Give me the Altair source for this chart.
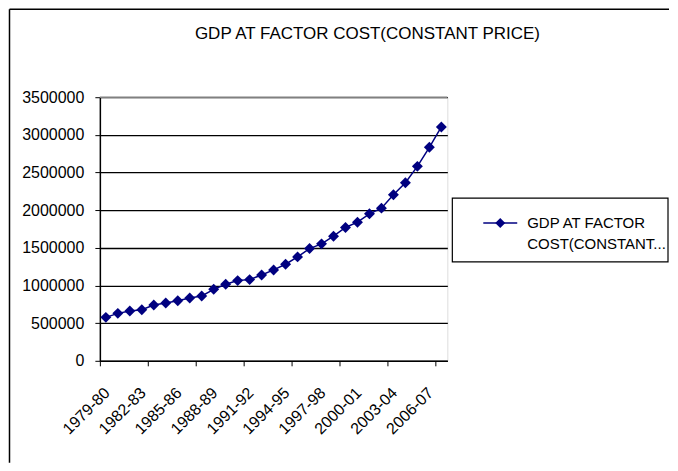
import altair as alt
import pandas as pd

years = ["1979-80", "1980-81", "1981-82", "1982-83", "1983-84", "1984-85", "1985-86",
         "1986-87", "1987-88", "1988-89", "1989-90", "1990-91", "1991-92", "1992-93",
         "1993-94", "1994-95", "1995-96", "1996-97", "1997-98", "1998-99", "1999-00",
         "2000-01", "2001-02", "2002-03", "2003-04", "2004-05", "2005-06", "2006-07",
         "2007-08"]
gdp = [577000, 630000, 661000, 679000, 741000, 767000, 798000, 834000, 861000,
       949000, 1016000, 1065000, 1078000, 1140000, 1207000, 1282000, 1380000,
       1490000, 1553000, 1655000, 1770000, 1841000, 1952000, 2027000, 2205000,
       2364000, 2582000, 2835000, 3105000]
title_text = "GDP AT FACTOR COST(CONSTANT PRICE)"
legend_lines = ["GDP AT FACTOR", "COST(CONSTANT..."]
y_ticks = [0, 500000, 1000000, 1500000, 2000000, 2500000, 3000000, 3500000]

n = len(years)
df = pd.DataFrame({"i": list(range(n)), "year": years, "gdp": gdp})
lab_df = df.iloc[::3]
band_edges = [k - 0.5 for k in range(n + 1)]

FONT = "Liberation Sans"
NAVY = "#000080"

xscale = alt.Scale(domain=[-0.5, n - 0.5], nice=False, zero=False)
yscale = alt.Scale(domain=[0, 3500000], nice=False)

base = alt.Chart(df).encode(
    x=alt.X("i:Q", scale=xscale,
            axis=alt.Axis(title=None, values=band_edges, labels=False, grid=False,
                          domainColor="black", domainWidth=1.5, tickColor="black",
                          tickSize=5)),
    y=alt.Y("gdp:Q", scale=yscale,
            axis=alt.Axis(title=None, values=y_ticks, format="d", grid=True,
                          gridColor="black", gridWidth=1.3,
                          domainColor="black", domainWidth=1.5, tickColor="black",
                          tickSize=5, labelPadding=11, labelFontSize=16,
                          labelFont=FONT, labelColor="black")),
)

line = base.mark_line(strokeWidth=1.5, color=NAVY)
pts = base.mark_point(shape="diamond", filled=True, size=120, opacity=1, color=NAVY)

xlabels = alt.Chart(lab_df).mark_text(
    angle=315, align="right", baseline="middle", fontSize=16, font=FONT,
    color="black", dx=2
).encode(
    x=alt.X("i:Q", scale=xscale),
    y=alt.value(295),
    text="year:N",
)

one = pd.DataFrame({"a": [0]})
top_edge = alt.Chart(one).mark_rule(color="#808080", strokeWidth=1.5).encode(
    x=alt.value(0), x2=alt.value(348), y=alt.value(0))
left_border = alt.Chart(one).mark_rule(color="black", strokeWidth=1.5).encode(
    x=alt.value(-90.5), y=alt.value(-88), y2=alt.value(366))
top_border = alt.Chart(one).mark_rule(color="black", strokeWidth=1.5).encode(
    x=alt.value(-90.5), x2=alt.value(570), y=alt.value(-88))

title = alt.Chart(one).mark_text(
    align="center", baseline="middle", fontSize=17, font=FONT, color="black"
).encode(text=alt.value(title_text), x=alt.value(268), y=alt.value(-63))

leg_box = alt.Chart(one).mark_rect(fill="white", stroke="black", strokeWidth=1.2).encode(
    x=alt.value(353), x2=alt.value(569), y=alt.value(101), y2=alt.value(165))
leg_line = alt.Chart(one).mark_rule(color=NAVY, strokeWidth=1.5).encode(
    x=alt.value(384), x2=alt.value(418), y=alt.value(126))
leg_pt = alt.Chart(one).mark_point(shape="diamond", filled=True, size=100, opacity=1,
                                   color=NAVY).encode(
    x=alt.value(401), y=alt.value(126))
leg_text = alt.Chart(one).mark_text(
    align="left", baseline="middle", fontSize=15, font=FONT, color="black",
    lineHeight=21
).encode(text=alt.value(legend_lines), x=alt.value(428), y=alt.value(126))

chart = alt.layer(line, pts, xlabels, top_edge, left_border, top_border, title,
                  leg_box, leg_line, leg_pt, leg_text).properties(
    width=348, height=264, padding=0,
).configure_view(
    fill="#C0C0C0", stroke="#808080", strokeWidth=1.5
).configure(background="white")

chart.save("out.html", embed_options={"renderer": "svg", "actions": False})
